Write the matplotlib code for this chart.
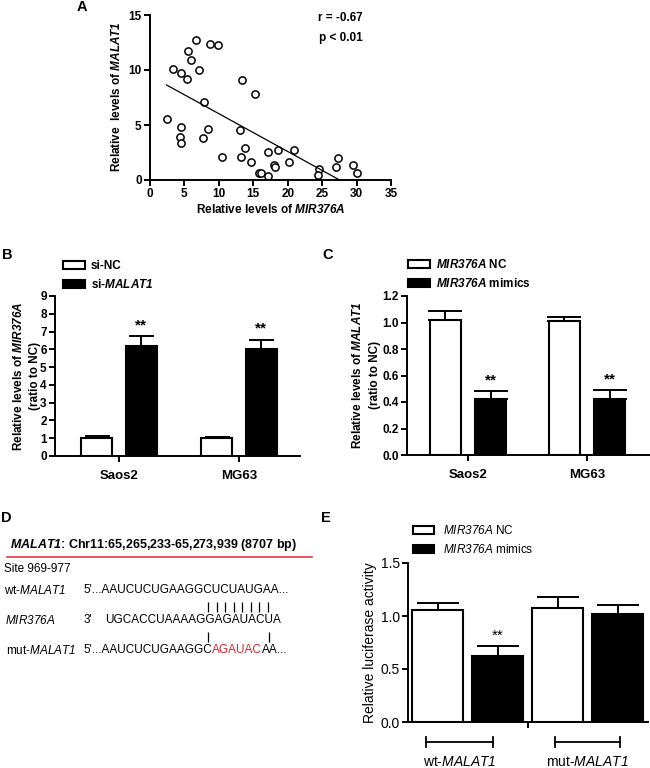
import numpy as np
import matplotlib
matplotlib.use('Agg')
import matplotlib.pyplot as plt
from matplotlib.ticker import FormatStrFormatter
from matplotlib.transforms import blended_transform_factory

plt.rcParams['font.family'] = ['Liberation Sans', 'DejaVu Sans']
plt.rcParams['mathtext.fontset'] = 'custom'
# digits inside \mathit fall back to 'rm', so make rm italic too
plt.rcParams['mathtext.rm'] = 'Liberation Sans:italic'
plt.rcParams['mathtext.it'] = 'Liberation Sans:italic'
plt.rcParams['mathtext.bf'] = 'Liberation Sans:bold'
plt.rcParams['mathtext.bfit'] = 'Liberation Sans:italic:bold'

# --- data ---
# A: scatter MIR376A vs MALAT1
mir376a = [2.4, 3.4, 4.45, 4.45, 4.35, 4.45, 5.4, 5.5, 5.95, 6.7, 7.15, 7.85, 7.7,
           8.4, 8.7, 9.9, 10.5, 13.3, 13.05, 13.2, 13.85, 14.65, 15.25, 15.8, 16.1,
           17.1, 17.15, 18.0, 18.2, 18.55, 20.15, 20.95, 24.5, 24.4, 26.95, 27.25,
           29.45, 30.0]
malat1 = [5.55, 10.05, 9.7, 4.8, 3.9, 3.4, 9.2, 11.75, 10.95, 12.7, 10.0, 7.1, 3.8,
          4.65, 12.35, 12.25, 2.05, 9.1, 4.55, 2.05, 2.95, 1.65, 7.8, 0.65, 0.65,
          0.35, 2.55, 1.4, 1.15, 2.7, 1.6, 2.7, 1.0, 0.45, 1.2, 2.0, 1.35, 0.6]

cells = ['Saos2', 'MG63']
# B: MIR376A after si-MALAT1
b_nc = [1.03, 1.0]
b_nc_err = [0.08, 0.08]
b_si = [6.19, 6.03]
b_si_err = [0.58, 0.52]
# C: MALAT1 after MIR376A mimics
c_nc = [1.02, 1.01]
c_nc_err = [0.07, 0.035]
c_mim = [0.42, 0.42]
c_mim_err = [0.065, 0.07]
# E: luciferase (wt NC, wt mimics, mut NC, mut mimics)
e_vals = [1.056, 0.625, 1.075, 1.02]
e_err = [0.07, 0.095, 0.105, 0.08]
e_sig = [False, True, False, False]
e_groups = ['wt-$\\mathit{MALAT1}$', 'mut-$\\mathit{MALAT1}$']
e_brackets = [(-0.19, 0.925), (1.96, 3.04)]

RED = '#e3242b'
W, H = 650, 768
fig = plt.figure(figsize=(W / 100, H / 100), dpi=100)


def axpx(x0, y0, x1, y1):
    return fig.add_axes([x0 / W, 1 - y1 / H, (x1 - x0) / W, (y1 - y0) / H])


def style(ax, size, weight, lw=1.4):
    for s in ['top', 'right']:
        ax.spines[s].set_visible(False)
    for s in ['left', 'bottom']:
        ax.spines[s].set_linewidth(lw)
    ax.tick_params(direction='out', width=lw, length=4, pad=2, labelsize=size)
    for t in ax.get_xticklabels() + ax.get_yticklabels():
        t.set_fontweight(weight)


def px(x, y):
    return x / W, 1 - y / H


# --- A ---
axA = axpx(150, 15, 391, 180)
axA.plot(mir376a, malat1, 'o', mfc='white', mec='black', ms=5.2, mew=1.1, clip_on=False)
fit = np.polyfit(mir376a, malat1, 1)
xs = np.array([min(mir376a), min(max(mir376a), -fit[1] / fit[0])])
axA.plot(xs, np.polyval(fit, xs), color='black', lw=0.9)
axA.set_xlim(0, 35)
axA.set_ylim(0, 15)
axA.set_xticks(range(0, 36, 5))
axA.set_yticks([0, 5, 10, 15])
style(axA, 8.5, 'bold')
axA.set_xlabel('Relative levels of $\\mathbfit{MIR376A}$', fontsize=8.5, fontweight='bold', labelpad=2)
fig.text(*px(117, 97), 'Relative  levels of $\\mathbfit{MALAT1}$', rotation=90,
         ha='center', va='center', fontsize=8.5, fontweight='bold')
axA.text(0.79, 0.98, 'r = -0.67', transform=axA.transAxes, ha='center', va='center',
         fontsize=8.5, fontweight='bold')
axA.text(0.79, 0.86, 'p < 0.01', transform=axA.transAxes, ha='center', va='center',
         fontsize=8.5, fontweight='bold')


def grouped(ax, nc, nc_err, tr, tr_err, off, w, cap, star_gap, labels):
    g = np.arange(len(cells))
    ax.bar(g - off, nc, w, color='white', edgecolor='black', lw=1.5, label=labels[0])
    ax.bar(g + off, tr, w, color='black', edgecolor='black', lw=1.5, label=labels[1])
    ax.errorbar(g - off, nc, yerr=[np.zeros(len(nc)), nc_err], fmt='none', ecolor='black',
                elinewidth=1.4, capsize=cap, capthick=1.4)
    ax.errorbar(g + off, tr, yerr=[np.zeros(len(tr)), tr_err], fmt='none', ecolor='black',
                elinewidth=1.4, capsize=cap, capthick=1.4)
    for xi, v, e in zip(g + off, tr, tr_err):
        ax.text(xi, v + e + star_gap, '**', ha='center', va='center', fontsize=11,
                fontweight='bold')
    ax.set_xticks(g)
    ax.set_xticklabels(cells)


# --- B ---
axB = axpx(55, 296, 300, 456)
grouped(axB, b_nc, b_nc_err, b_si, b_si_err, 0.185, 0.26, 9, 0.6,
        ['si-NC', 'si-$\\mathbfit{MALAT1}$'])
axB.set_xlim(-0.533, 1.508)
axB.set_ylim(0, 9)
axB.set_yticks(range(0, 10))
style(axB, 8.5, 'bold')
for t in axB.get_xticklabels():
    t.set_fontsize(9.5)
axB.tick_params(axis='x', pad=6)
axB.legend(loc='upper left', bbox_to_anchor=px(63, 260), bbox_transform=fig.transFigure,
           frameon=False, prop=dict(weight='bold', size=8.5), handlelength=1.9,
           handleheight=0.7, handletextpad=0.45, labelspacing=0.5, borderpad=0,
           borderaxespad=0)
fig.text(*px(26.5, 376), 'Relative levels of $\\mathbfit{MIR376A}$\n(ratio to NC)',
         rotation=90, ha='center', va='center', multialignment='center', fontsize=8.5,
         fontweight='bold', linespacing=1.5)

# --- C ---
axC = axpx(407, 296, 650, 455)
grouped(axC, c_nc, c_nc_err, c_mim, c_mim_err, 0.19, 0.26, 12, 0.08,
        ['$\\mathbfit{MIR376A}$ NC', '$\\mathbfit{MIR376A}$ mimics'])
axC.set_xlim(-0.513, 1.53)
axC.set_ylim(0, 1.2)
axC.set_yticks(np.arange(0, 1.21, 0.2))
axC.yaxis.set_major_formatter(FormatStrFormatter('%.1f'))
style(axC, 8.5, 'bold')
for t in axC.get_xticklabels():
    t.set_fontsize(9.5)
axC.tick_params(axis='x', pad=6)
axC.legend(loc='upper left', bbox_to_anchor=px(408, 258), bbox_transform=fig.transFigure,
           frameon=False, prop=dict(weight='bold', size=8.5), handlelength=1.9,
           handleheight=0.7, handletextpad=0.45, labelspacing=0.5, borderpad=0,
           borderaxespad=0)
fig.text(*px(366, 375), 'Relative levels of $\\mathbfit{MALAT1}$\n(ratio to NC)',
         rotation=90, ha='center', va='center', multialignment='center', fontsize=8.5,
         fontweight='bold', linespacing=1.5)

# --- E ---
axE = axpx(408, 563, 648, 722)
pos = np.arange(len(e_vals))
fills = ['white', 'black', 'white', 'black']
axE.bar(pos, e_vals, 0.85, color=fills, edgecolor='black', lw=1.5)
axE.errorbar(pos, e_vals, yerr=[np.zeros(len(e_vals)), e_err], fmt='none', ecolor='black',
             elinewidth=1.4, capsize=15, capthick=1.4)
for xi, v, e, s in zip(pos, e_vals, e_err, e_sig):
    if s:
        axE.text(xi, v + e + 0.09, '**', ha='center', va='center', fontsize=11)
axE.set_xlim(-0.492, 3.508)
axE.set_ylim(0, 1.5)
axE.set_yticks([0, 0.5, 1.0, 1.5])
axE.yaxis.set_major_formatter(FormatStrFormatter('%.1f'))
axE.set_xticks([1.5])
axE.set_xticklabels([''])
style(axE, 10, 'normal')
bt = blended_transform_factory(axE.transData, axE.transAxes)
for (x0, x1), lab in zip(e_brackets, e_groups):
    axE.plot([x0, x1], [-0.126, -0.126], color='black', lw=1.3, transform=bt, clip_on=False)
    for xe in (x0, x1):
        axE.plot([xe, xe], [-0.095, -0.157], color='black', lw=1.3, transform=bt,
                 clip_on=False)
    axE.text((x0 + x1) / 2, -0.25, lab, transform=bt, ha='center', va='center', fontsize=10)
handles = [plt.Rectangle((0, 0), 1, 1, fc=c, ec='black', lw=1.5) for c in ('white', 'black')]
axE.legend(handles, ['$\\mathit{MIR376A}$ NC', '$\\mathit{MIR376A}$ mimics'],
           loc='upper left', bbox_to_anchor=px(413, 524), bbox_transform=fig.transFigure,
           frameon=False, prop=dict(size=8.5), handlelength=1.8, handleheight=0.7,
           handletextpad=0.7, labelspacing=0.55, borderpad=0, borderaxespad=0)
fig.text(*px(370, 643), 'Relative luciferase activity', rotation=90, ha='center',
         va='center', fontsize=10)

# --- overlay: panel letters and D ---
axO = fig.add_axes([0, 0, 1, 1])
axO.set_xlim(0, W)
axO.set_ylim(H, 0)
axO.axis('off')
for lab, x, y in [('A', 82, 7), ('B', 7, 255), ('C', 328, 255), ('D', 6, 518), ('E', 326, 518)]:
    axO.text(x, y, lab, ha='center', va='center', fontsize=10.5, fontweight='bold')

axO.text(10, 545, '$\\mathbfit{MALAT1}$: Chr11:65,265,233-65,273,939 (8707 bp)',
         fontsize=9, fontweight='bold', va='center')
axO.plot([7, 312], [557, 557], color=RED, lw=1.1)
fs = 8.5
axO.text(4, 569, 'Site 969-977', fontsize=fs, va='center')
axO.text(4, 590, 'wt-$\\mathit{MALAT1}$', fontsize=fs, va='center')
axO.text(83, 590, "5'...AAUCUCUGAAGGCUCUAUGAA...", fontsize=fs, va='center')
axO.text(5, 620, '$\\mathit{MIR376A}$', fontsize=fs, va='center')
axO.text(84, 620, "3'", fontsize=fs, va='center')
axO.text(105, 620, 'UGCACCUAAAAGGAGAUACUA', fontsize=fs, va='center')
axO.text(6, 650, 'mut-$\\mathit{MALAT1}$', fontsize=fs, va='center')
t1 = axO.text(83, 650, "5'...AAUCUCUGAAGGC", fontsize=fs, va='center')
t2 = axO.annotate('AGAUAC', xy=(1, 0.5), xycoords=t1, fontsize=fs, va='center', color=RED)
axO.annotate('AA...', xy=(1, 0.5), xycoords=t2, fontsize=fs, va='center')
pair_x = [208, 216.5, 225, 233.5, 242, 250.5, 259, 268]
axO.vlines(pair_x, 602, 612, color='black', lw=0.9)
axO.vlines([208, 269], 632, 642, color='black', lw=0.9)

fig.savefig('out.png', dpi=100)
